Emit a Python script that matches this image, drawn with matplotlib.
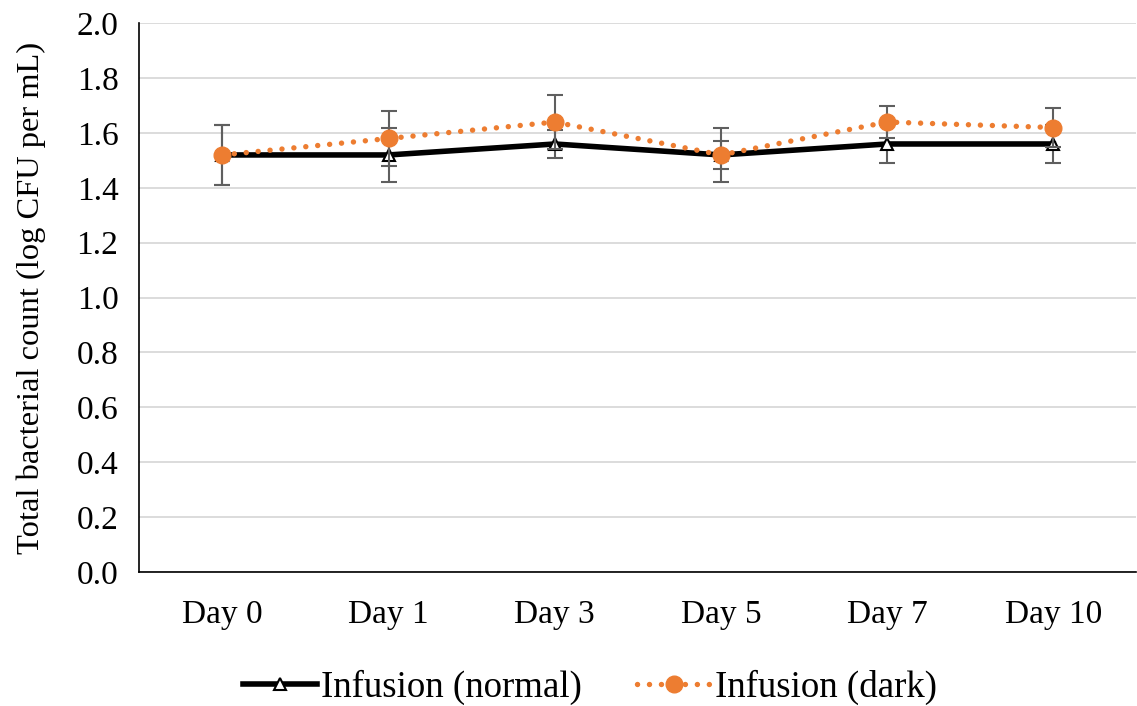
import numpy as np
import matplotlib.pyplot as plt
from matplotlib.lines import Line2D

plt.rcParams['font.family'] = ['Liberation Serif', 'DejaVu Serif']

days = ['Day 0', 'Day 1', 'Day 3', 'Day 5', 'Day 7', 'Day 10']
normal = [1.52, 1.52, 1.56, 1.52, 1.56, 1.56]
normal_err = [0.11, 0.10, 0.05, 0.10, 0.07, 0.07]
dark = [1.52, 1.58, 1.64, 1.52, 1.64, 1.62]
dark_err = [0.11, 0.10, 0.10, 0.05, 0.06, 0.07]

orange = '#ED7D31'
dots = (0, (0.01, 2.2))

fig = plt.figure(figsize=(11.37, 7.06), dpi=100)
ax = fig.add_axes([0.1225, 0.19, 0.877, 0.777])

x = np.arange(len(days))
ax.errorbar(x, normal, yerr=normal_err, color='black', lw=4,
            marker='^', ms=8, mfc='white', mec='black', mew=1.5,
            ecolor='#5f5f5f', elinewidth=1.5, capsize=6, capthick=1.5, zorder=3)
ax.errorbar(x, dark, yerr=dark_err, color=orange, lw=3.9, ls=dots,
            dash_capstyle='round', marker='o', ms=12, mfc=orange, mec=orange,
            ecolor='#5f5f5f', elinewidth=1.5, capsize=6, capthick=1.5, zorder=4)

ax.set_xlim(-0.5, len(days) - 0.5)
ax.set_ylim(0, 2.0)
ax.set_yticks(np.arange(0, 2.01, 0.2))
ax.set_yticklabels([f'{v:.1f}' for v in np.arange(0, 2.01, 0.2)])
ax.set_xticks(x)
ax.set_xticklabels(days)
ax.tick_params(axis='both', length=0, labelsize=24)
ax.tick_params(axis='x', pad=20)
ax.tick_params(axis='y', pad=15)
ax.grid(axis='y', color='#d9d9d9', lw=1.3)
ax.set_axisbelow(True)
for s in ['top', 'right']:
    ax.spines[s].set_visible(False)
for s in ['left', 'bottom']:
    ax.spines[s].set_color('black')
    ax.spines[s].set_linewidth(1.2)
ax.set_ylabel('Total bacterial count (log CFU per mL)', fontsize=23.4, labelpad=22)

handles = [
    Line2D([], [], color='black', lw=4, marker='^', ms=8, mfc='white', mec='black', mew=1.5),
    Line2D([], [], color=orange, lw=3.9, ls=dots, dash_capstyle='round',
           marker='o', ms=12, mfc=orange, mec=orange),
]
fig.legend(handles, ['Infusion (normal)', 'Infusion (dark)'], loc='center',
           bbox_to_anchor=(0.519, 0.027), ncol=2, frameon=False,
           fontsize=26.6, handlelength=2.0, handletextpad=0.1, columnspacing=1.5)

fig.savefig('out.png', dpi=100)
